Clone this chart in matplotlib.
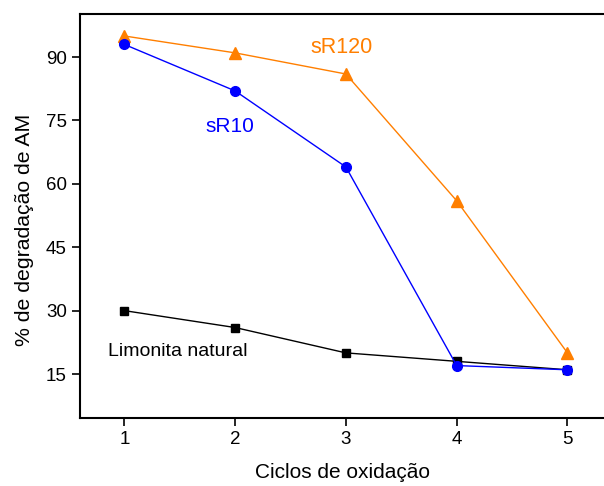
import matplotlib
matplotlib.use("Agg")
import matplotlib.pyplot as plt

plt.rcParams['font.family'] = ['Liberation Sans', 'DejaVu Sans']

ciclos = [1, 2, 3, 4, 5]
sR120 = [95, 91, 86, 56, 20]
sR10 = [93, 82, 64, 17, 16]
limonita = [30, 26, 20, 18, 16]

fig = plt.figure(figsize=(6.04, 4.86), dpi=100)
ax = fig.add_axes([0.1325, 0.14, 0.8675, 0.8312])

ax.plot(ciclos, limonita, color='black', marker='s', markersize=6, lw=1)
ax.plot(ciclos, sR120, color='#ff7f00', marker='^', markersize=8, lw=1)
ax.plot(ciclos, sR10, color='#0000ff', marker='o', markersize=7, lw=1)

ax.text(2.96, 92.3, 'sR120', color='#ff7f00', fontsize=15.5, ha='center', va='center')
ax.text(1.95, 73.5, 'sR10', color='#0000ff', fontsize=15, ha='center', va='center')
ax.text(1.48, 20.3, 'Limonita natural', color='black', fontsize=14, ha='center', va='center')

ax.set_xlim(0.6, 5.33)
ax.set_ylim(4.6, 100.2)
ax.set_xticks(ciclos)
ax.set_yticks([15, 30, 45, 60, 75, 90])
ax.spines['right'].set_visible(False)
for s in ['left', 'bottom', 'top']:
    ax.spines[s].set_linewidth(1.5)
ax.tick_params(direction='out', length=6, width=1.2, labelsize=13.5)
ax.set_xlabel('Ciclos de oxidação', fontsize=15, labelpad=11)
ax.set_ylabel('% de degradação de AM', fontsize=15.3)
ax.yaxis.set_label_coords(-0.087, 0.465)

fig.savefig('out.png', dpi=100)
